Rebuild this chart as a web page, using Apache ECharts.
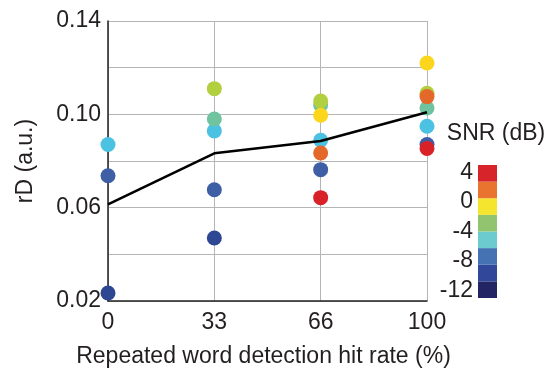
<!DOCTYPE html>
<html>
<head>
<meta charset="utf-8">
<script src="https://cdn.jsdelivr.net/npm/echarts@6/dist/echarts.min.js"></script>
<style>
  html, body { margin: 0; padding: 0; background: #fff; }
  #chart { width: 551px; height: 371px; }
</style>
</head>
<body>
<div id="chart"></div>
<script>
// Hit-rate categories on the x axis
const hitRates = ['0', '33', '66', '100'];

// rD per SNR group (null where the group has no point)
const rdNavy   = [0.0234, 0.0470, null,   null];
const rdBlue   = [0.0737, 0.0677, 0.0763, 0.0871];
const rdCyan   = [0.0871, 0.0929, 0.0889, 0.0949];
const rdTeal   = [null,   0.0980, 0.1040, 0.1027];
const rdLime   = [null,   0.1110, 0.1057, 0.1090];
const rdYellow = [null,   null,   0.0996, 0.1220];
const rdOrange = [null,   null,   0.0834, 0.1076];
const rdRed    = [null,   null,   0.0643, 0.0854];

// Mean rD per hit rate
const rdMean = [0.0614, 0.0833, 0.0886, 0.1009];

// Y tick labels
const rdTickLabels = [0.02, 0.06, 0.10, 0.14];

// Colour bar: bin edges (dB), bin colours from bottom, tick labels
const snrEdges = [-13, -10.75, -8.5, -6.25, -4, -1.75, 0.5, 2.75, 5];
const snrColors = ['#232463', '#31489a', '#4472b2', '#6ccbcf', '#92c46f', '#f5e52f', '#e87430', '#d7242b'];
const snrTickLabels = [-12, -8, -4, 0, 4];

const groups = [
  { data: rdNavy,   color: '#2e4793' },
  { data: rdBlue,   color: '#3e5ea6' },
  { data: rdCyan,   color: '#4bc2e2' },
  { data: rdTeal,   color: '#70c39f' },
  { data: rdLime,   color: '#b2cf3f' },
  { data: rdYellow, color: '#fbd61d' },
  { data: rdOrange, color: '#e4682a' },
  { data: rdRed,    color: '#d82228' }
];

const textColor = '#231f20';
const fontFamily = 'Liberation Sans, Arial, sans-serif';
const fs = 23;

const scatterSeries = groups.map(g => ({
  type: 'scatter',
  xAxisIndex: 0,
  yAxisIndex: 0,
  symbolSize: 15,
  clip: false,
  itemStyle: { color: g.color, opacity: 1 },
  data: g.data.map((v, i) => v === null ? null : [i, v]),
  z: 3
}));

const binData = snrColors.map((c, i) => [snrEdges[i], snrEdges[i + 1], i]);

const chart = echarts.init(document.getElementById('chart'), null, { renderer: 'canvas' });
chart.setOption({
  animation: false,
  backgroundColor: '#ffffff',
  textStyle: { fontFamily: fontFamily, color: textColor },
  grid: [
    { left: 108, right: 124, top: 21, bottom: 70, outerBoundsMode: 'none', containLabel: false },
    { left: 478, width: 19, top: 165, height: 133, outerBoundsMode: 'none', containLabel: false }
  ],
  xAxis: [
    {
      type: 'category',
      gridIndex: 0,
      data: hitRates,
      boundaryGap: false,
      axisLine: { lineStyle: { color: '#222', width: 1.5 } },
      axisTick: { show: false },
      axisLabel: { color: textColor, fontSize: fs, margin: 10 },
      splitLine: { show: true, lineStyle: { color: '#b5b5b5', width: 1 } },
      name: 'Repeated word detection hit rate (%)',
      nameLocation: 'middle',
      nameGap: 44,
      nameTextStyle: { color: textColor, fontSize: fs, padding: [0, 8, 0, 0] }
    },
    {
      type: 'value',
      gridIndex: 1,
      min: 0,
      max: 1,
      show: false
    }
  ],
  yAxis: [
    {
      type: 'value',
      gridIndex: 0,
      min: 0.02,
      max: 0.14,
      interval: 0.02,
      axisLine: { show: true, lineStyle: { color: '#222', width: 1.5 } },
      axisTick: { show: false },
      axisLabel: {
        color: textColor,
        fontSize: fs,
        margin: 7,
        customValues: rdTickLabels,
        formatter: v => v.toFixed(2)
      },
      splitLine: { show: true, lineStyle: { color: '#b5b5b5', width: 1 } },
      name: 'rD (a.u.)',
      nameLocation: 'middle',
      nameGap: 71,
      nameTextStyle: { color: textColor, fontSize: fs }
    },
    {
      type: 'value',
      gridIndex: 1,
      min: -13,
      max: 5,
      axisLine: { show: false },
      axisTick: { show: false },
      splitLine: { show: false },
      axisLabel: {
        color: textColor,
        fontSize: fs,
        margin: 5,
        customValues: snrTickLabels
      },
      name: 'SNR (dB)',
      nameLocation: 'end',
      nameGap: 20,
      nameTextStyle: { color: textColor, fontSize: fs, align: 'center', padding: [0, 0, 0, 36] }
    }
  ],
  series: scatterSeries.concat([
    {
      type: 'line',
      xAxisIndex: 0,
      yAxisIndex: 0,
      data: rdMean,
      symbol: 'none',
      lineStyle: { color: '#000', width: 2.6 },
      z: 4
    },
    {
      type: 'custom',
      xAxisIndex: 1,
      yAxisIndex: 1,
      data: binData,
      renderItem: function (params, api) {
        const p0 = api.coord([0, api.value(0)]);
        const p1 = api.coord([1, api.value(1)]);
        return {
          type: 'rect',
          shape: { x: p0[0], y: p1[1], width: p1[0] - p0[0], height: p0[1] - p1[1] },
          style: { fill: snrColors[api.value(2)] }
        };
      }
    }
  ])
});
</script>
</body>
</html>
